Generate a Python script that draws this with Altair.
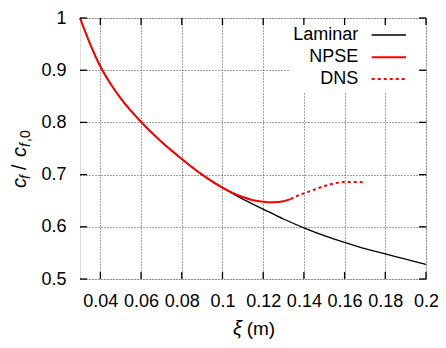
import altair as alt
import pandas as pd

# ---- data ----
lam_x = [0.03, 0.035, 0.04, 0.045, 0.05, 0.06, 0.07, 0.08, 0.09, 0.10, 0.11, 0.12,
         0.13, 0.14, 0.15, 0.16, 0.17, 0.18, 0.19, 0.20]
lam_y = [1.000, 0.950, 0.907, 0.874, 0.846, 0.801, 0.763, 0.730, 0.700, 0.675, 0.653, 0.634,
         0.615, 0.598, 0.583, 0.570, 0.558, 0.548, 0.538, 0.528]

npse_x = [0.03, 0.035, 0.04, 0.045, 0.05, 0.06, 0.07, 0.08, 0.09, 0.10,
          0.105, 0.11, 0.115, 0.12, 0.125, 0.13, 0.1335]
npse_y = [1.000, 0.950, 0.907, 0.874, 0.846, 0.801, 0.763, 0.730, 0.700, 0.675,
          0.665, 0.657, 0.651, 0.648, 0.647, 0.649, 0.653]

dns_x = [0.1335, 0.1365, 0.14, 0.145, 0.15, 0.155, 0.16, 0.165, 0.17]
dns_y = [0.653, 0.659, 0.664, 0.671, 0.678, 0.683, 0.686, 0.686, 0.685]

x_ticks = [0.04, 0.06, 0.08, 0.10, 0.12, 0.14, 0.16, 0.18, 0.20]
y_ticks = [0.5, 0.6, 0.7, 0.8, 0.9, 1.0]
legend_labels = ["Laminar", "NPSE", "DNS"]

W, H = 346, 261
FONT = "Liberation Sans"
FS = 18
TICK = 7

lam = pd.DataFrame({"x": lam_x, "y": lam_y})
npse = pd.DataFrame({"x": npse_x, "y": npse_y})
dns = pd.DataFrame({"x": dns_x, "y": dns_y})
xt = pd.DataFrame({"x": x_ticks})
yt = pd.DataFrame({"y": y_ticks})

xs = alt.Scale(domain=[0.03, 0.2], nice=False, zero=False)
ys = alt.Scale(domain=[0.5, 1.0], nice=False, zero=False)

xaxis = alt.Axis(values=x_ticks, format="~g", ticks=False, domain=False,
                 labelFont=FONT, labelFontSize=FS, labelColor="black", labelPadding=13,
                 grid=True, gridDash=[1, 2], gridColor="#444", gridWidth=1,
                 title=None, labelFlush=False)
yaxis = alt.Axis(values=y_ticks, format="~g", ticks=False, domain=False,
                 labelFont=FONT, labelFontSize=FS, labelColor="black", labelPadding=14,
                 grid=True, gridDash=[1, 2], gridColor="#444", gridWidth=1,
                 title=None, labelFlush=False)

base_lam = alt.Chart(lam).mark_line(color="black", strokeWidth=1.3, interpolate="monotone").encode(
    x=alt.X("x:Q", scale=xs, axis=xaxis),
    y=alt.Y("y:Q", scale=ys, axis=yaxis),
)
npse_line = alt.Chart(npse).mark_line(color="#ff0000", strokeWidth=2, interpolate="monotone").encode(
    x=alt.X("x:Q", scale=xs), y=alt.Y("y:Q", scale=ys))
dns_line = alt.Chart(dns).mark_line(color="#ff0000", strokeWidth=2, strokeDash=[3, 3],
                                    interpolate="monotone").encode(
    x=alt.X("x:Q", scale=xs), y=alt.Y("y:Q", scale=ys))

# inward ticks on all four sides
tb = alt.Chart(xt).mark_rule(color="black", strokeWidth=1.3).encode(
    x=alt.X("x:Q", scale=xs), y=alt.value(H), y2=alt.value(H - TICK))
tt = alt.Chart(xt).mark_rule(color="black", strokeWidth=1.3).encode(
    x=alt.X("x:Q", scale=xs), y=alt.value(0), y2=alt.value(TICK))
tl = alt.Chart(yt).mark_rule(color="black", strokeWidth=1.3).encode(
    y=alt.Y("y:Q", scale=ys), x=alt.value(0), x2=alt.value(TICK))
tr = alt.Chart(yt).mark_rule(color="black", strokeWidth=1.3).encode(
    y=alt.Y("y:Q", scale=ys), x=alt.value(W), x2=alt.value(W - TICK))

one = pd.DataFrame({"k": [0]})

# legend box
box = alt.Chart(one).mark_rect(color="white").encode(
    x=alt.value(209), x2=alt.value(341), y=alt.value(1), y2=alt.value(75))

legend_layers = []
leg_text_y = [22, 44.3, 66]
leg_line_y = [17, 39.3, 61]
leg_colors = ["black", "#ff0000", "#ff0000"]
leg_dash = [[1, 0], [1, 0], [3, 3]]
leg_w = [1.3, 2, 2]
for i, lab in enumerate(legend_labels):
    d = pd.DataFrame({"t": [lab]})
    legend_layers.append(alt.Chart(d).mark_text(font=FONT, fontSize=FS, align="right",
                                                baseline="alphabetic", color="black").encode(
        text="t:N", x=alt.value(278.3), y=alt.value(leg_text_y[i])))
    legend_layers.append(alt.Chart(d).mark_rule(color=leg_colors[i], strokeWidth=leg_w[i],
                                                strokeDash=leg_dash[i]).encode(
        x=alt.value(291.7), x2=alt.value(326), y=alt.value(leg_line_y[i])))


def txt(s, x, y, size=20, style="normal", angle=0):
    d = pd.DataFrame({"t": [s]})
    kw = dict(font=FONT, fontSize=size, fontStyle=style, align="left",
              baseline="alphabetic", color="black")
    if angle:
        kw["angle"] = angle
    return alt.Chart(d).mark_text(**kw).encode(text="t:N", x=alt.value(x), y=alt.value(y))


# axis titles
titles = [
    txt("ξ", 153, 317, 20, "italic"),
    txt("(m)", 166.7, 317, 19),
    txt("c", -54, 170, 20, "italic", 270),
    txt("f", -50, 161, 14, "italic", 270),
    txt("/", -54, 152, 20, "normal", 270),
    txt("c", -54, 139, 20, "italic", 270),
    txt("f", -50, 129, 14, "italic", 270),
    txt(",0", -50, 124, 14, "normal", 270),
]

chart = alt.layer(base_lam, npse_line, dns_line, box, tb, tt, tl, tr, *legend_layers, *titles).properties(
    width=W, height=H,
    autosize=alt.AutoSizeParams(type="none"),
    padding={"left": 72, "top": 10, "right": 12, "bottom": 61},
).configure_view(stroke="black", strokeWidth=1.5).configure(background="white")

chart.save("out.html", embed_options={"renderer": "svg", "actions": False})
